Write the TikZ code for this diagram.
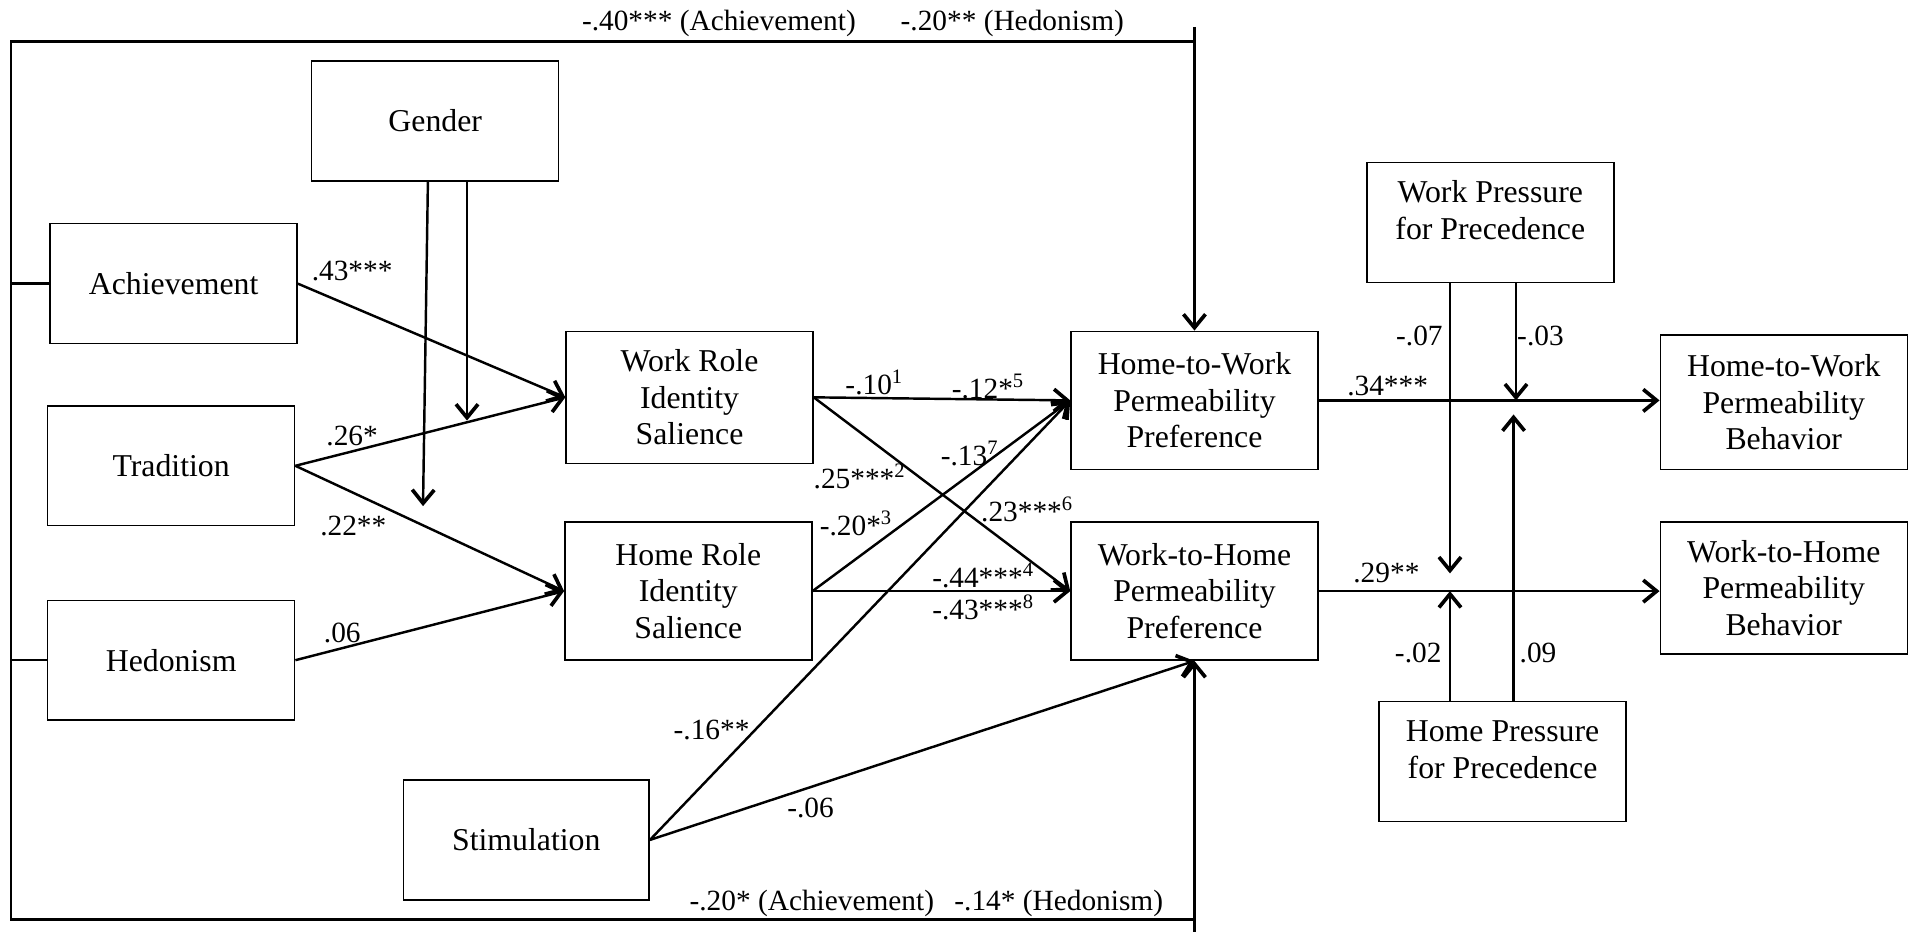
\documentclass[tikz,border=0pt]{standalone}
\usepackage{fontspec}
\setmainfont{Liberation Serif}
\usetikzlibrary{arrows.meta}
\begin{document}
\begin{tikzpicture}[x=1pt,y=-1pt,
 box/.style={draw, line width=1.2pt, minimum width=202pt, inner sep=0pt, align=center, font=\fontsize{26}{30}\selectfont},
 btext/.style={inner sep=0pt, align=center, font=\fontsize{26}{30}\selectfont},
 lbl/.style={inner sep=0pt, font=\fontsize{24}{28}\selectfont},
 conn/.style={line width=2pt, -{Straight Barb[length=11pt,width=18pt,line width=3pt]}},
 ln/.style={line width=2pt}]
\useasboundingbox (0,0) rectangle (1568,762);

% boxes
\node[box, minimum height=98pt] (gender) at (356,99) {Gender};
\node[box, minimum height=98pt] (ach) at (142,232) {Achievement};
\node[box, minimum height=98pt] (trad) at (140,381) {Tradition};
\node[box, minimum height=98pt] (hed) at (140,540) {Hedonism};
\node[box, minimum height=98pt, minimum width=201pt] (stim) at (430.5,687) {Stimulation};
\node[box, minimum height=108pt] (wrole) at (564,325) {Work Role\\Identity\\Salience};
\node[box, minimum height=113pt] (hrole) at (563,483.5) {Home Role\\Identity\\Salience};
\node[box, minimum height=113pt] (h2wp) at (977,327.5) {Home-to-Work\\Permeability\\Preference};
\node[box, minimum height=113pt] (w2hp) at (977,483.5) {Work-to-Home\\Permeability\\Preference};
\node[box, minimum height=98pt] (wpp) at (1219,182) {};
\node[btext] (wppt) at (1219,172) {Work Pressure\\for Precedence};
\node[box, minimum height=98pt] (hpp) at (1229,623) {};
\node[btext] (hppt) at (1229,613) {Home Pressure\\for Precedence};
\node[box, minimum height=110pt] (h2wb) at (1459,329) {Home-to-Work\\Permeability\\Behavior};
\node[box, minimum height=108pt] (w2hb) at (1459,481) {Work-to-Home\\Permeability\\Behavior};

% frame
\coordinate (tl) at (9,34);
\coordinate (bl) at (9,752);
\coordinate (tr) at (977,34);
\coordinate (br) at (977,752);
\coordinate (ttop) at (977,22);
\coordinate (bbot) at (977,764);
\draw[ln] (tr) -- (tl) -- (bl) -- (br);
\draw[conn] (ttop) -- (h2wp.north);
\draw[conn] (bbot) -- (w2hp.south);
\draw[ln] (ach.west -| tl) -- (ach.west);
\draw[ln] (hed.west -| tl) -- (hed.west);

% left paths
\draw[conn] (ach.east) -- (wrole.west);
\draw[conn] (trad.east) -- (wrole.west);
\draw[conn] (trad.east) -- (hrole.west);
\draw[conn] (hed.east) -- (hrole.west);
\coordinate (g1) at (346,414);
\coordinate (g2) at (382,344);
\draw[conn] ([xshift=-6pt]gender.south) -- (g1);
\draw[conn] ([xshift=26pt]gender.south) -- (g2);

% middle paths
\draw[conn] (wrole.east) -- (h2wp.west);
\draw[conn] (wrole.east) -- (w2hp.west);
\draw[conn] (hrole.east) -- (h2wp.west);
\draw[conn] (hrole.east) -- (w2hp.west);
\draw[conn] (stim.east) -- (h2wp.west);
\draw[conn] (stim.east) -- (w2hp.south);

% right paths
\draw[conn] (h2wp.east) -- (h2wp.east -| h2wb.west);
\draw[conn] (w2hp.east) -- (w2hp.east -| w2hb.west);
\coordinate (a1) at (1186,469);
\coordinate (a2) at (1240,327.5);
\coordinate (a3) at (1186,483.5);
\coordinate (a4) at (1238,339);
\draw[conn] (a1 |- wpp.south) -- (a1);
\draw[conn] (a2 |- wpp.south) -- (a2);
\draw[conn] (a3 |- hpp.north) -- (a3);
\draw[conn] (a4 |- hpp.north) -- (a4);

% labels
\node[lbl] (l1) at (288,222) {.43***};
\node[lbl] (l2) at (288,357) {.26*};
\node[lbl] (l3) at (289,430) {.22**};
\node[lbl] (l4) at (280,518) {.06};
\node[lbl] (l5) at (715,313) {-.10\textsuperscript{1}};
\node[lbl] (l6) at (808,316) {-.12*\textsuperscript{5}};
\node[lbl] (l7) at (703,390) {.25***\textsuperscript{2}};
\node[lbl] (l8) at (700,428) {-.20*\textsuperscript{3}};
\node[lbl] (l9) at (793,371) {-.13\textsuperscript{7}};
\node[lbl] (l10) at (840,417) {.23***\textsuperscript{6}};
\node[lbl] (l11) at (804,471) {-.44***\textsuperscript{4}};
\node[lbl] (l12) at (804,497) {-.43***\textsuperscript{8}};
\node[lbl] (l13) at (582,597) {-.16**};
\node[lbl] (l14) at (663,661) {-.06};
\node[lbl] (l15) at (1135,316) {.34***};
\node[lbl] (l16) at (1134,469) {.29**};
\node[lbl] (l17) at (1161,275) {-.07};
\node[lbl] (l18) at (1260,275) {-.03};
\node[lbl] (l19) at (1160,534) {-.02};
\node[lbl] (l20) at (1258,534) {.09};
\node[lbl] (t1) at (588,19) {-.40*** (Achievement)};
\node[lbl] (t2) at (828,19) {-.20** (Hedonism)};
\node[lbl] (b1) at (664,739) {-.20* (Achievement)};
\node[lbl] (b2) at (866,739) {-.14* (Hedonism)};
\end{tikzpicture}
\end{document}
